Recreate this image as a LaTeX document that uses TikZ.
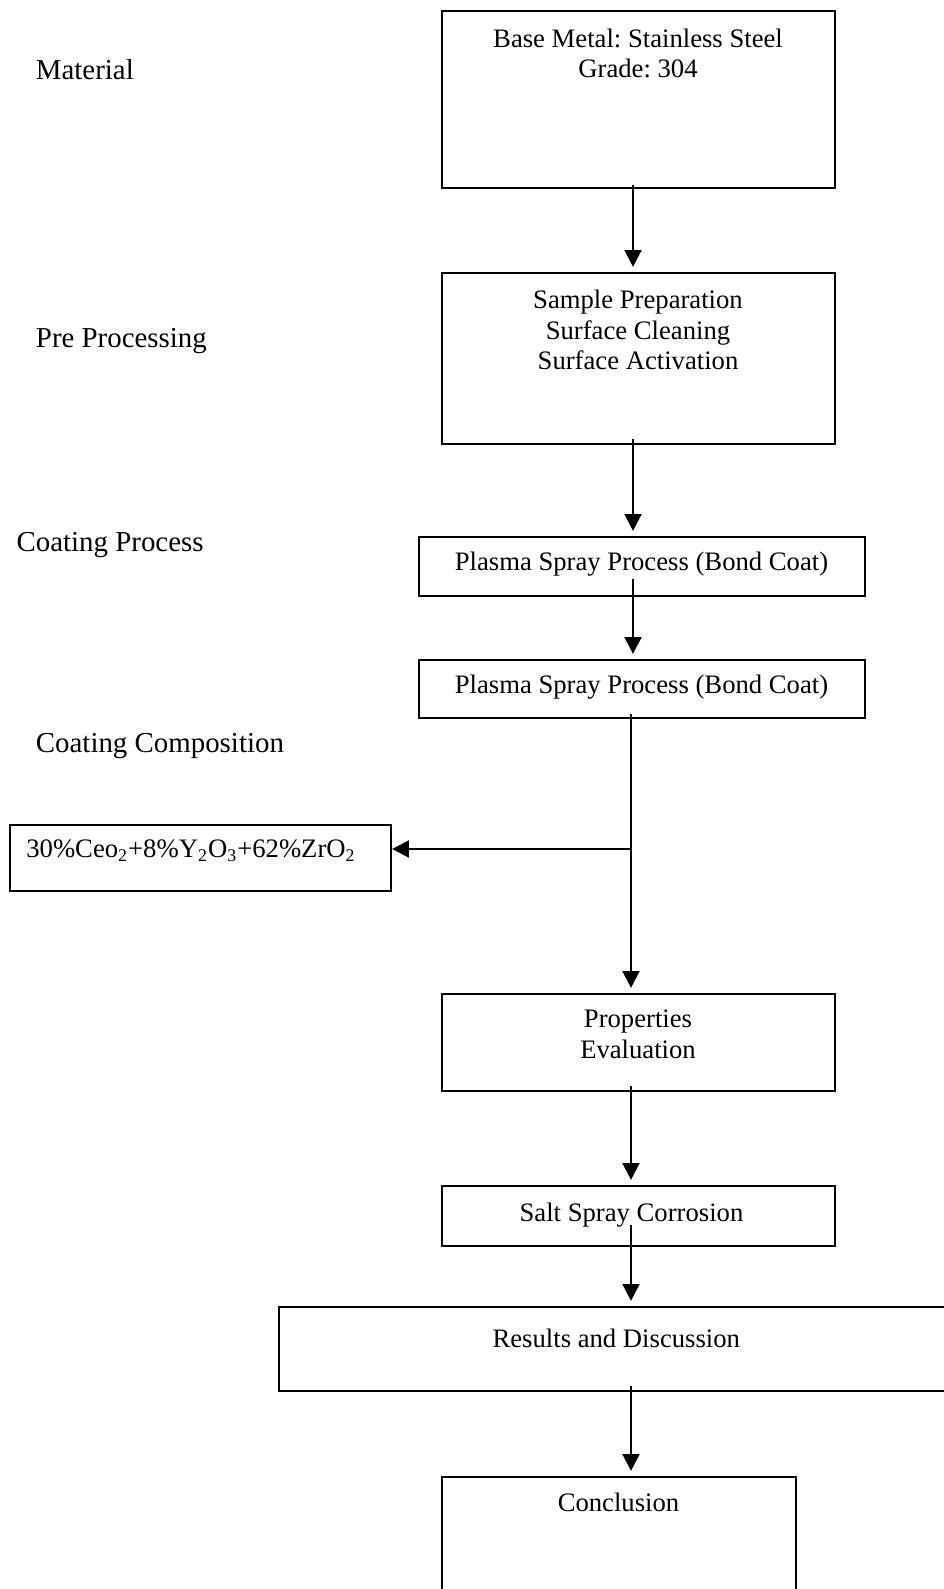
\documentclass[tikz,border=0pt]{standalone}
\usepackage{fontspec}
\setmainfont{Liberation Serif}
\frenchspacing
\usetikzlibrary{positioning,arrows.meta,calc}

\begin{document}
\begin{tikzpicture}[x=0.45pt, y=-0.45pt,
  font=\fontsize{12}{13.7}\selectfont,
  box/.style={draw, rectangle, line width=1pt, inner sep=0pt, anchor=north west},
  txt/.style={inner sep=0pt, align=center},
  stage/.style={inner sep=0pt, anchor=base west, font=\fontsize{13}{15}\selectfont},
  arr/.style={-{Triangle[length=7.5pt,width=7.5pt]}, line width=1.1pt, shorten >=2.3pt}]
  \useasboundingbox (0,0) rectangle (943,1589);

  % Stage labels
  \node[stage] (lblMat) at (35.5,80) {Material};
  \node[stage] (lblPre) at (35.5,348) {Pre Processing};
  \node[stage] (lblCoat) at (16.2,551) {Coating Process};
  \node[stage] (lblComp) at (35.5,752) {Coating Composition};

  % Boxes
  \node[box, minimum width=176.9pt, minimum height=79.65pt] (matBox) at (441,10) {};
  \node[box, minimum width=176.9pt, minimum height=76.95pt] (preBox) at (441,272) {};
  \node[box, minimum width=200.7pt, minimum height=26.55pt] (plasmaA) at (418,536) {};
  \node[box, minimum width=200.7pt, minimum height=26.1pt] (plasmaB) at (418,659) {};
  \node[box, minimum width=171.4pt, minimum height=29.7pt] (compBox) at (9,824) {};
  \node[box, minimum width=176.9pt, minimum height=43.65pt] (propBox) at (441,993) {};
  \node[box, minimum width=176.9pt, minimum height=27pt] (saltBox) at (441,1185) {};
  \node[box, minimum width=304.65pt, minimum height=37.8pt] (resBox) at (278,1306) {};
  \node[box, minimum width=159.3pt, minimum height=58.5pt] (conBox) at (441,1476) {};

  % Box texts
  \node[txt, anchor=north] (matText) at (638,28.3) {Base Metal: Stainless Steel\\Grade: 304};
  \node[txt, anchor=north] (preText) at (638,289.8) {Sample Preparation\\Surface Cleaning\\Surface Activation};
  \node[txt, anchor=base] (plasmaAText) at (641.5,570) {Plasma Spray Process (Bond Coat)};
  \node[txt, anchor=base] (plasmaBText) at (641.5,693) {Plasma Spray Process (Bond Coat)};
  \node[txt, anchor=base] (compText) at (191,857) {30\%Ceo\textsubscript{2}+8\%Y\textsubscript{2}O\textsubscript{3}+62\%ZrO\textsubscript{2}};
  \node[txt, anchor=north] (propText) at (638,1009.8) {Properties\\Evaluation};
  \node[txt, anchor=base] (saltText) at (631.5,1221) {Salt Spray Corrosion};
  \node[txt, anchor=base] (resText) at (616.3,1347) {Results and Discussion};
  \node[txt, anchor=base] (conText) at (618.5,1511) {Conclusion};

  % Arrows
  \coordinate (colA) at (633,0);
  \coordinate (colB) at (631,0);
  \coordinate (split) at (631,849);
  \draw[arr] ([yshift=2pt]matBox.south -| colA) -- (preBox.north -| colA);
  \draw[arr] ([yshift=2.7pt]preBox.south -| colA) -- (plasmaA.north -| colA);
  \draw[arr] ([yshift=8pt]plasmaA.south -| colA) -- (plasmaB.north -| colA);
  \draw[arr] ([yshift=2.2pt]plasmaB.south -| colB) -- (propBox.north -| colB);
  \draw[arr, shorten >=0pt] (split) -- (split -| compBox.east);
  \draw[arr] ([yshift=2.7pt]propBox.south -| colB) -- (saltBox.north -| colB);
  \draw[arr] ([yshift=9.9pt]saltBox.south -| colB) -- (resBox.north -| colB);
  \draw[arr] ([yshift=2.7pt]resBox.south -| colB) -- (conBox.north -| colB);
\end{tikzpicture}
\end{document}
